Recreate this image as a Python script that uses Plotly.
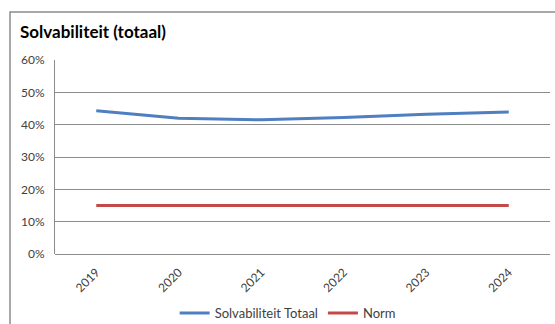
import plotly.graph_objects as go

# Solvency ratio per year versus the required norm
years = ["2019", "2020", "2021", "2022", "2023", "2024"]
solvabiliteit = [0.443, 0.420, 0.415, 0.422, 0.432, 0.439]
norm = [0.15, 0.15, 0.15, 0.15, 0.15, 0.15]

W, H = 555, 324
L, R, T, B = 55, 5, 60, 70
pw, ph = W - L - R, H - T - B

def px_x(x):
    return (x - L) / pw

def px_y(y):
    return (H - B - y) / ph

font = "Lato, 'Open Sans', sans-serif"

fig = go.Figure()
fig.add_trace(go.Scatter(x=years, y=solvabiliteit, mode="lines",
                         name="Solvabiliteit Totaal",
                         line=dict(color="#4F7EC1", width=3)))
fig.add_trace(go.Scatter(x=years, y=norm, mode="lines", name="Norm",
                         line=dict(color="#C44A47", width=3)))

fig.update_layout(
    width=W, height=H,
    margin=dict(l=L, r=R, t=T, b=B, autoexpand=False),
    paper_bgcolor="white", plot_bgcolor="white",
    font=dict(family=font, size=11, color="#404040"),
    showlegend=True,
    legend=dict(orientation="h", x=0.47, xanchor="center",
                y=px_y(313), yanchor="middle",
                font=dict(size=13, color="#404040"),
                itemwidth=30, tracegroupgap=0),
    annotations=[dict(text="<b>Solvabiliteit (totaal)</b>", xref="paper", yref="paper",
                      x=px_x(18), y=px_y(31), xanchor="left", yanchor="middle",
                      showarrow=False, font=dict(family=font, size=17, color="#000000"))],
    shapes=[dict(type="rect", xref="paper", yref="paper",
                 x0=px_x(10), x1=px_x(570), y0=px_y(340), y1=px_y(12),
                 line=dict(color="#8C8C8C", width=1.5), fillcolor="rgba(0,0,0,0)",
                 layer="below")],
)

fig.update_xaxes(type="category", range=[-0.5, 5.5], automargin=False,
                 showgrid=False, tickangle=-45, ticklabelstandoff=8,
                 showline=False, ticks="", tickfont=dict(size=12, color="#404040"),
                 zeroline=False)
fig.update_yaxes(range=[0, 0.6], dtick=0.1, tickformat=".0%", automargin=False,
                 showgrid=True, gridcolor="#8C8C8C", gridwidth=1,
                 showline=True, linecolor="#8C8C8C", linewidth=1,
                 zeroline=True, zerolinecolor="#8C8C8C", zerolinewidth=1,
                 ticks="", ticklabelstandoff=7,
                 tickfont=dict(size=12, color="#404040"))

fig.write_html("out.html")
